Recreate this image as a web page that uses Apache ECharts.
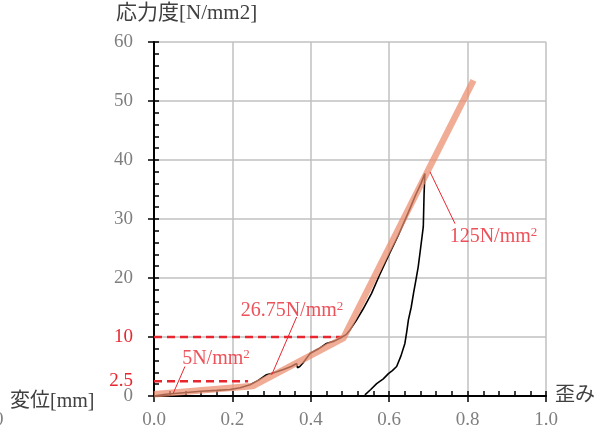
<!DOCTYPE html>
<html><head><meta charset="utf-8">
<script src="https://cdn.jsdelivr.net/npm/echarts@6/dist/echarts.min.js"></script>
<style>html,body{margin:0;padding:0;background:#fff}#c{width:599px;height:430px}</style>
</head><body><div id="c"></div>
<script>
// measured stress-strain curve (strain, stress)
const curveX = [0,0.03,0.075,0.12,0.16,0.194,0.22,0.245,0.265,0.287,0.304,0.33,0.35,0.364,0.366,0.372,0.38,0.398,0.42,0.44,0.46,0.474,0.49,0.5,0.517,0.533,0.555,0.574,0.597,0.623,0.648,0.667,0.681,0.691,
                0.691,0.689,0.687,0.68,0.674,0.668,0.662,0.656,0.649,0.645,0.640,0.63,0.619,0.608,0.598,0.585,0.568,0.553,0.538];
const curveY = [0,0.3,0.56,0.8,0.95,1.1,1.4,1.9,2.6,3.6,3.9,4.5,5.0,5.5,4.8,5.0,5.6,7.2,8.0,8.9,9.3,9.8,10.4,11.2,12.9,14.7,17.4,20.3,23.6,27.2,31.0,34.0,36.0,37.7,
                37.7,34.3,28.7,25.0,21.9,19.6,17.4,15.0,12.9,11.0,8.9,6.8,5.0,4.3,3.8,2.9,2.1,1.1,0.2];
// fitted lines (strain, stress)
const fitX = [0,0.253,0.483,0.815];
const fitY = [0.3,1.7,9.8,53.5];
// reference levels
const refLevels = [10, 2.5];
const refEnds = [0.48, 0.24];
// slope labels and leader lines
const slopeNames = ['5','26.75','125'];
const slopeLabelX = [0.158,0.352,0.866];
const slopeLabelY = [6.3,14.4,27.0];
const leaderFromX = [0.079,0.364,0.768];
const leaderFromY = [5.0,13.4,29.2];
const leaderToX = [0.049,0.30,0.704];
const leaderToY = [0.45,3.56,38.0];
const xTicks = [0,0.2,0.4,0.6,0.8,1.0];
const yTicks = [0,10,20,30,40,50,60];

const FONT = '"Liberation Serif","Noto Sans CJK JP",serif';
const RED = '#e8262f';
const GRAY = '#7f7f7f';
const FS = 19;
const chart = echarts.init(document.getElementById('c'));

const series = [];
series.push({type:'line', xAxisIndex:0, yAxisIndex:0, data:curveX.map((x,i)=>[x,curveY[i]]),
  showSymbol:false, lineStyle:{color:'#000',width:1.6}, z:3});
series.push({type:'line', xAxisIndex:0, yAxisIndex:0, data:fitX.map((x,i)=>[x,fitY[i]]),
  showSymbol:false, lineStyle:{color:'rgba(236,140,108,0.72)',width:6.5,cap:'butt',join:'round'}, z:4});
refLevels.forEach((lv,i)=>{
  series.push({type:'line', xAxisIndex:0, yAxisIndex:0, data:[[0,lv],[refEnds[i],lv]], showSymbol:false,
    lineStyle:{color:RED,width:2.5,type:[8,5]}, z:2, silent:true,
    markPoint:{symbol:'circle', symbolSize:0, data:[{coord:[0,lv], value:String(lv)}],
      label:{show:true, position:'left', distance:21, color:RED, fontFamily:FONT, fontSize:FS, formatter:String(lv)}}});
});
slopeNames.forEach((n,i)=>{
  series.push({type:'line', xAxisIndex:0, yAxisIndex:0, data:[[leaderFromX[i],leaderFromY[i]],[leaderToX[i],leaderToY[i]]],
    showSymbol:false, lineStyle:{color:RED,width:1}, z:5});
});
series.push({type:'scatter', xAxisIndex:0, yAxisIndex:0, symbolSize:0, z:6,
  data:slopeNames.map((n,i)=>({value:[slopeLabelX[i],slopeLabelY[i]], name:n})),
  label:{show:true, position:'inside', formatter:p=>'{t|'+p.name+'N/mm}{s|2}',
    rich:{t:{color:RED,fontFamily:FONT,fontSize:20}, s:{color:RED,fontFamily:FONT,fontSize:13,verticalAlign:'top',padding:[0,0,8,0]}}}});

chart.setOption({
  animation:false,
  grid:{left:154,right:53,top:42,bottom:34},
  xAxis:[{type:'value', min:0, max:1, interval:0.2, position:'bottom',
    name:'歪み', nameLocation:'end', nameGap:9, nameTextStyle:{color:'#404040',fontFamily:FONT,fontSize:20,padding:[8,0,0,0]},
    axisLine:{show:true,onZero:false,lineStyle:{color:'#000',width:2}},
    axisTick:{show:true,inside:false,length:6,lineStyle:{color:'#000',width:1.5}},
    axisLabel:{color:GRAY,fontFamily:FONT,fontSize:FS,margin:15,formatter:v=>v.toFixed(1)},
    splitLine:{show:true,lineStyle:{color:'#c0c0c0',width:1.5}}},
   {type:'value', min:0, max:1, interval:0.04, position:'bottom', gridIndex:0,
    axisLine:{show:false}, axisTick:{show:true,inside:true,length:5,lineStyle:{color:'#000',width:1.5}},
    axisLabel:{show:false}, splitLine:{show:false}}],
  yAxis:[{type:'value', min:0, max:60, interval:10, position:'left',
    axisLine:{show:true,onZero:false,lineStyle:{color:'#000',width:2}},
    axisTick:{show:true,inside:false,length:6,lineStyle:{color:'#000',width:1.5}},
    axisLabel:{color:GRAY,fontFamily:FONT,fontSize:FS,margin:21,formatter:v=>v===10?'':String(v)},
    splitLine:{show:true,lineStyle:{color:'#c0c0c0',width:1.5}}},
   {type:'value', min:0, max:60, interval:2, position:'left', gridIndex:0,
    axisLine:{show:false}, axisTick:{show:true,inside:true,length:5,lineStyle:{color:'#000',width:1.5}},
    axisLabel:{show:false}, splitLine:{show:false}}],
  graphic:[
    {type:'text', left:116, top:3, style:{text:'応力度[N/mm2]', fill:'#404040', font:'21px '+FONT}},
    {type:'text', left:10, top:392, style:{text:'変位[mm]', fill:'#404040', font:'20px '+FONT}},
    {type:'text', left:-6, top:411, style:{text:'0', fill:GRAY, font:FS+'px '+FONT}}
  ],
  series:series
});
</script></body></html>
